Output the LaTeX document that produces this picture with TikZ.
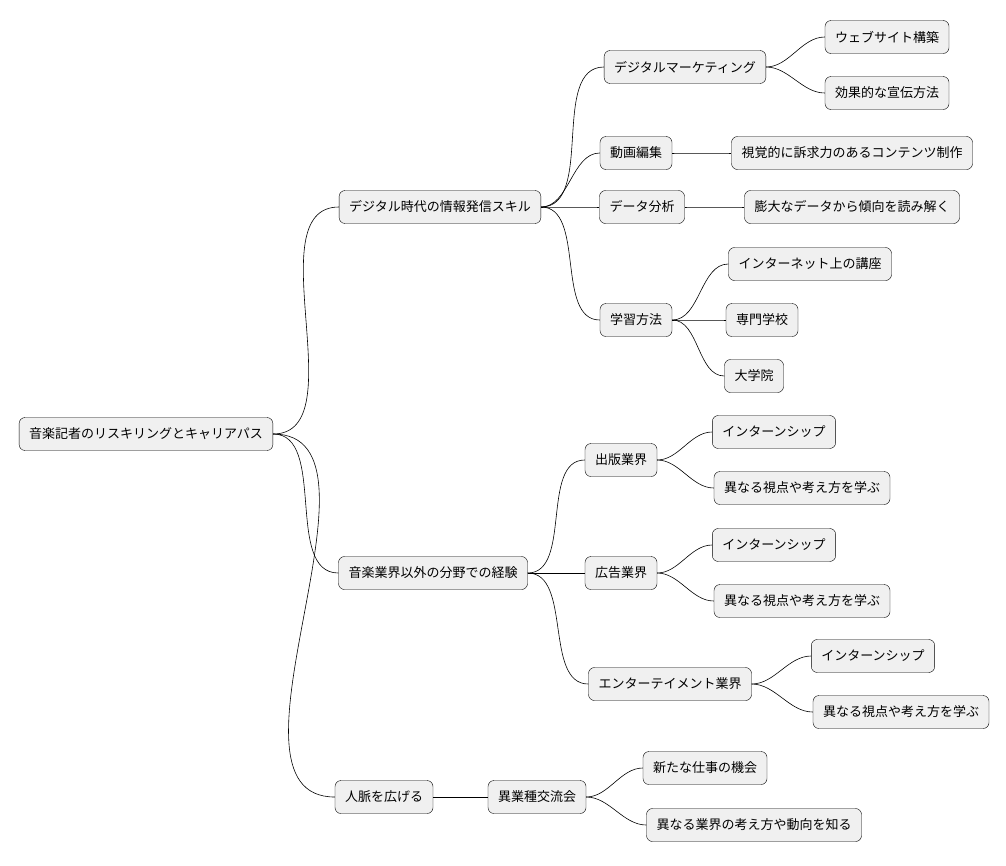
\documentclass[tikz,border=0pt]{standalone}
\usepackage{fontspec}
\setmainfont{Noto Sans CJK JP}
\usetikzlibrary{positioning}

\tikzset{
	topic/.style={draw, rounded corners=6pt, fill=black!6, minimum height=33pt, inner xsep=10pt, font=\fontsize{13}{15}\selectfont},
	branch/.style={draw, line width=0.6pt, out=0, in=180, looseness=0.9}
}

\begin{document}
\begin{tikzpicture}[x=1pt, y=-1pt]
	\useasboundingbox (0, 0) rectangle (1006, 865);

	\node[topic] (root) at (146, 434) {音楽記者のリスキリングとキャリアパス};

	\node[topic] (dig) at (440, 207) {デジタル時代の情報発信スキル};
	\node[topic] (exp) at (433, 573) {音楽業界以外の分野での経験};
	\node[topic] (net) at (384, 797) {人脈を広げる};

	\node[topic] (mkt) at (685, 67) {デジタルマーケティング};
	\node[topic] (vid) at (636, 153) {動画編集};
	\node[topic] (dat) at (642, 207) {データ分析};
	\node[topic] (lrn) at (636, 320) {学習方法};

	\node[topic] (web) at (887, 37) {ウェブサイト構築};
	\node[topic] (adv) at (887, 93) {効果的な宣伝方法};
	\node[topic] (cnt) at (852, 153) {視覚的に訴求力のあるコンテンツ制作};
	\node[topic] (trd) at (852, 207) {膨大なデータから傾向を読み解く};
	\node[topic] (onl) at (810, 264) {インターネット上の講座};
	\node[topic] (sch) at (762, 320) {専門学校};
	\node[topic] (grd) at (754, 376) {大学院};

	\node[topic] (pub) at (621, 460) {出版業界};
	\node[topic] (ads) at (621, 573) {広告業界};
	\node[topic] (ent) at (670, 684) {エンターテイメント業界};

	\node[topic] (pubi) at (774, 432) {インターンシップ};
	\node[topic] (pubv) at (802, 488) {異なる視点や考え方を学ぶ};
	\node[topic] (adsi) at (774, 545) {インターンシップ};
	\node[topic] (adsv) at (802, 601) {異なる視点や考え方を学ぶ};
	\node[topic] (enti) at (873, 656) {インターンシップ};
	\node[topic] (entv) at (901, 712) {異なる視点や考え方を学ぶ};

	\node[topic] (mix) at (537, 797) {異業種交流会};
	\node[topic] (job) at (705, 768) {新たな仕事の機会};
	\node[topic] (ind) at (754, 825) {異なる業界の考え方や動向を知る};

	% connectors
	\foreach \a/\b in {root/dig, root/exp, root/net,
		dig/mkt, dig/vid, dig/dat, dig/lrn,
		mkt/web, mkt/adv, vid/cnt, dat/trd, lrn/onl, lrn/sch, lrn/grd,
		exp/pub, exp/ads, exp/ent,
		pub/pubi, pub/pubv, ads/adsi, ads/adsv, ent/enti, ent/entv,
		net/mix, mix/job, mix/ind}
		\draw[branch] (\a.east) to (\b.west);

\end{tikzpicture}
\end{document}
